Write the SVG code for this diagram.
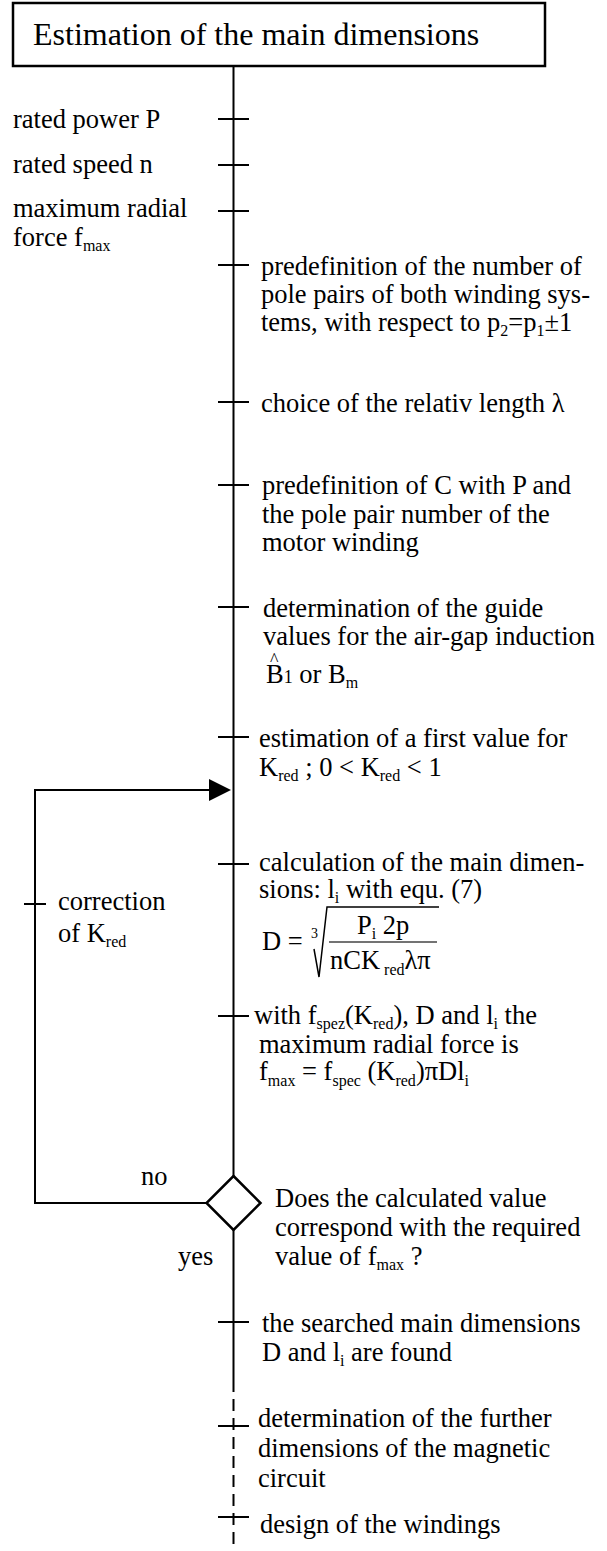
<svg xmlns="http://www.w3.org/2000/svg" width="607" height="1551" viewBox="0 0 607 1551">
<style>
text { font-family: "Liberation Serif", "Times New Roman", serif; font-size: 26.5px; fill: #000; }
.s { font-size: 16px; }
.ln { stroke: #000; stroke-width: 2; fill: none; }
.tk { stroke: #000; stroke-width: 2; }
</style>
<rect width="607" height="1551" fill="#fff"/>
<g id="connectors">
  <path class="ln" d="M233.5,66 V1176 M233.5,1230 V1380"/>
  <path class="ln" d="M233.5,1380 V1551" stroke-dasharray="12 7"/>
  <path class="tk" d="M218,119 H249 M218,165 H249 M218,211 H249 M218,265 H249 M218,402 H249 M218,485 H249 M218,607 H249 M218,737 H249 M218,864 H249 M218,1016 H249 M218,1322 H249 M218,1426 H249 M218,1517 H249"/>
  <path class="ln" d="M206.5,1203 H35 V790 H212"/>
  <polygon points="231,790 209,779 209,801" fill="#000"/>
  <path class="tk" d="M24,904 H46"/>
</g>
<g id="title">
  <rect x="13" y="3" width="532" height="63" fill="#fff" stroke="#000" stroke-width="2.5"/>
  <text x="33" y="45" style="font-size:32px">Estimation of the main dimensions</text>
</g>
<g id="in-power"><text x="13" y="128">rated power P</text></g>
<g id="in-speed"><text x="13" y="173">rated speed n</text></g>
<g id="in-force"><text x="13" y="217">maximum radial</text><text x="13" y="246">force f<tspan class="s" dy="5">max</tspan></text></g>
<g id="step-poles">
  <text x="261" y="274.5">predefinition of the number of</text>
  <text x="261" y="303">pole pairs of both winding sys-</text>
  <text x="261" y="331">tems, with respect to p<tspan class="s" dy="5">2</tspan><tspan dy="-5">=p</tspan><tspan class="s" dy="5">1</tspan><tspan dy="-5">±1</tspan></text>
</g>
<g id="step-lambda"><text x="261" y="411.5">choice of the relativ length λ</text></g>
<g id="step-C">
  <text x="262" y="494">predefinition of C with P and</text>
  <text x="262" y="522.5">the pole pair number of the</text>
  <text x="262" y="551">motor winding</text>
</g>
<g id="step-B">
  <text x="263" y="617">determination of the guide</text>
  <text x="263" y="645">values for the air-gap induction</text>
  <text x="266" y="683"><tspan x="270" y="666" style="font-size:18px">^</tspan><tspan x="266" y="683">B</tspan><tspan style="font-size:18px">1</tspan><tspan>  or B</tspan><tspan class="s" dy="5">m</tspan></text>
</g>
<g id="step-Kred">
  <text x="259" y="747">estimation of a first value for</text>
  <text x="259" y="776">K<tspan class="s" dy="5">red</tspan><tspan dy="-5"> ; 0 &lt; K</tspan><tspan class="s" dy="5">red</tspan><tspan dy="-5"> &lt; 1</tspan></text>
</g>
<g id="step-calc">
  <text x="259" y="871">calculation of the main dimen-</text>
  <text x="259" y="898">sions: l<tspan class="s" dy="5">i</tspan><tspan dy="-5"> with equ. (7)</tspan></text>
  <text x="262" y="950">D =</text>
  <text x="311" y="938" style="font-size:14px">3</text>
  <path d="M314,949 L319,977 L327,907 H439" fill="none" stroke="#000" stroke-width="1.5"/>
  <path d="M329,942 H437" stroke="#444" stroke-width="1.3"/>
  <text x="357" y="934">P<tspan class="s" dy="5">i</tspan><tspan dy="-5"> 2p</tspan></text>
  <text x="330" y="969">nCK<tspan class="s" dy="6"> red</tspan><tspan dy="-6">λπ</tspan></text>
</g>
<g id="step-force">
  <text x="254" y="1024">with f<tspan class="s" dy="5">spez</tspan><tspan dy="-5">(K</tspan><tspan class="s" dy="5">red</tspan><tspan dy="-5">), D and l</tspan><tspan class="s" dy="5">i</tspan><tspan dy="-5"> the</tspan></text>
  <text x="259" y="1053">maximum radial force is</text>
  <text x="259" y="1080">f<tspan class="s" dy="6">max</tspan><tspan dy="-6"> = f</tspan><tspan class="s" dy="6">spec</tspan><tspan dy="-6"> (K</tspan><tspan class="s" dy="6">red</tspan><tspan dy="-6">)πDl</tspan><tspan class="s" dy="6">i</tspan></text>
</g>
<g id="correction">
  <text x="58" y="910">correction</text>
  <text x="58" y="942">of K<tspan class="s" dy="5">red</tspan></text>
</g>
<g id="decision">
  <polygon points="233.5,1176 260.5,1203 233.5,1230 206.5,1203" fill="#fff" stroke="#000" stroke-width="2.5"/>
  <text x="275" y="1207">Does the calculated value</text>
  <text x="275" y="1236">correspond with the required</text>
  <text x="275" y="1265">value of f<tspan class="s" dy="5">max</tspan><tspan dy="-5"> ?</tspan></text>
</g>
<g id="label-no"><text x="141" y="1185">no</text></g>
<g id="label-yes"><text x="178" y="1265">yes</text></g>
<g id="step-found">
  <text x="262" y="1332">the searched main dimensions</text>
  <text x="262" y="1361">D and l<tspan class="s" dy="5">i</tspan><tspan dy="-5"> are found</tspan></text>
</g>
<g id="step-further">
  <text x="258" y="1427">determination of the further</text>
  <text x="258" y="1457">dimensions of the magnetic</text>
  <text x="258" y="1487">circuit</text>
</g>
<g id="step-windings"><text x="260" y="1533">design of the windings</text></g>
</svg>
